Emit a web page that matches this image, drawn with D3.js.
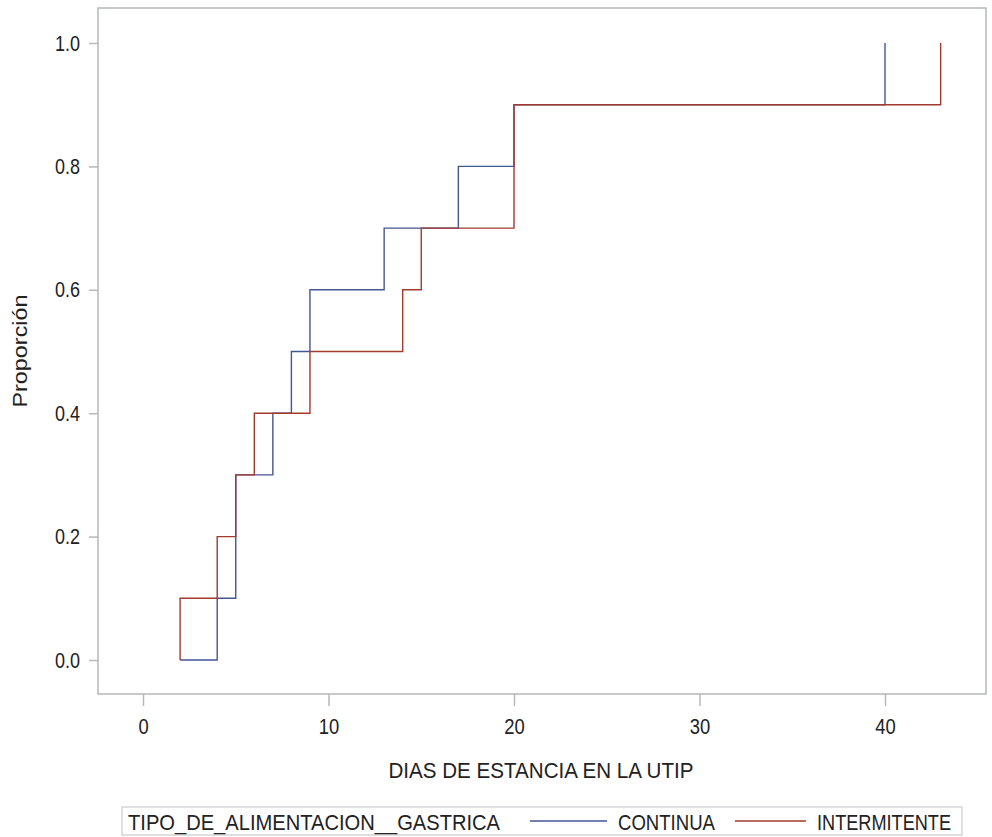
<!DOCTYPE html>
<html>
<head>
<meta charset="utf-8">
<script src="https://cdn.jsdelivr.net/npm/d3@7"></script>
<style>
  body { margin: 0; background: #fff; }
  text { font-family: "Liberation Sans", Arial, sans-serif; fill: #222; }
</style>
</head>
<body>
<div id="chart"></div>
<script>
// data (empirical CDF steps)
const continuaX = [2, 4, 5, 7, 8, 9, 13, 17, 20, 40];
const continuaY = [0, 0.1, 0.3, 0.4, 0.5, 0.6, 0.7, 0.8, 0.9, 1.0];
const intermitenteX = [2, 2, 4, 5, 6, 9, 14, 15, 20, 43];
const intermitenteY = [0, 0.1, 0.2, 0.3, 0.4, 0.5, 0.6, 0.7, 0.9, 1.0];
const xTicks = [0, 10, 20, 30, 40];
const yTicks = [0, 0.2, 0.4, 0.6, 0.8, 1.0];
const groupTitle = "TIPO_DE_ALIMENTACION__GASTRICA";
const groups = ["CONTINUA", "INTERMITENTE"];
const colors = ["#445694", "#A23A2E"];

const width = 992, height = 837;
const frame = { left: 98, right: 986, top: 8, bottom: 694 };
const fontSize = 20;
const sy = 1.12; // text in the picture is a bit taller than wide

const svg = d3.select("#chart").append("svg")
  .attr("width", width).attr("height", height);

// scales
const x = d3.scaleLinear().domain([0, 40]).range([143, 885]);
const y = d3.scaleLinear().domain([0, 1]).range([660, 43]);

// place a text at (tx, ty) and stretch it
function stretched(parent, tx, ty, sx, s) {
  return parent.append("text")
    .attr("transform", `translate(${tx}, ${ty}) scale(${sx}, ${s})`)
    .attr("font-size", fontSize);
}

// frame
svg.append("rect")
  .attr("x", frame.left).attr("y", frame.top)
  .attr("width", frame.right - frame.left)
  .attr("height", frame.bottom - frame.top)
  .attr("fill", "none")
  .attr("stroke", "#b4b9bd")
  .attr("stroke-width", 1.5);

// x axis
const xAxis = svg.append("g")
  .attr("transform", `translate(0, ${frame.bottom})`)
  .call(d3.axisBottom(x).tickValues(xTicks).tickSize(12).tickPadding(12).tickFormat(d3.format("d")));
xAxis.select(".domain").remove();
xAxis.selectAll("line").attr("stroke", "#b4b9bd").attr("stroke-width", 1.5);
xAxis.selectAll("text")
  .attr("font-size", fontSize).attr("font-family", null).attr("fill", "#222")
  .each(function () {
    const t = d3.select(this);
    const ty = +t.attr("y");
    t.attr("y", 0).attr("transform", `translate(0, ${ty}) scale(0.92, ${sy})`);
  });

// y axis
const yAxis = svg.append("g")
  .attr("transform", `translate(${frame.left}, 0)`)
  .call(d3.axisLeft(y).tickValues(yTicks).tickSize(9).tickPadding(9).tickFormat(d3.format(".1f")));
yAxis.select(".domain").remove();
yAxis.selectAll("line").attr("stroke", "#b4b9bd").attr("stroke-width", 1.5);
yAxis.selectAll("text")
  .attr("font-size", fontSize).attr("font-family", null).attr("fill", "#222")
  .each(function () {
    const t = d3.select(this);
    const tx = +t.attr("x");
    t.attr("x", 0).attr("transform", `translate(${tx}, 0) scale(0.9, ${sy})`);
  });

// axis titles
stretched(svg, (frame.left + frame.right) / 2 - 1, 778, 1, sy)
  .attr("text-anchor", "middle")
  .attr("textLength", 305)
  .attr("lengthAdjust", "spacingAndGlyphs")
  .text("DIAS DE ESTANCIA EN LA UTIP");

svg.append("text")
  .attr("transform", `translate(27, ${(frame.top + frame.bottom) / 2}) rotate(-90)`)
  .attr("text-anchor", "middle")
  .attr("font-size", fontSize)
  .attr("textLength", 113)
  .attr("lengthAdjust", "spacingAndGlyphs")
  .text("Proporción");

// step lines
const line = d3.line()
  .x(d => x(d[0]))
  .y(d => y(d[1]))
  .curve(d3.curveStepAfter);

const series = [
  d3.zip(continuaX, continuaY),
  d3.zip(intermitenteX, intermitenteY)
];

svg.selectAll(".ecdf")
  .data(series)
  .enter()
  .append("path")
  .attr("class", "ecdf")
  .attr("d", line)
  .attr("fill", "none")
  .attr("stroke", (d, i) => colors[i])
  .attr("stroke-width", 1.4);

// legend
const legend = svg.append("g");
legend.append("rect")
  .attr("x", 122).attr("y", 807)
  .attr("width", 962 - 122).attr("height", 28)
  .attr("fill", "none")
  .attr("stroke", "#c8cccf")
  .attr("stroke-width", 1.2);

stretched(legend, 128, 830, 1, sy)
  .attr("textLength", 372)
  .attr("lengthAdjust", "spacingAndGlyphs")
  .text(groupTitle);

const legendItems = [
  { x1: 530, x2: 607, tx: 618, len: 97 },
  { x1: 735, x2: 806, tx: 817, len: 134 }
];
legendItems.forEach((p, i) => {
  legend.append("line")
    .attr("x1", p.x1).attr("x2", p.x2)
    .attr("y1", 821).attr("y2", 821)
    .attr("stroke", colors[i])
    .attr("stroke-width", 1.4);
  stretched(legend, p.tx, 830, 1, sy)
    .attr("textLength", p.len)
    .attr("lengthAdjust", "spacingAndGlyphs")
    .text(groups[i]);
});
</script>
</body>
</html>
